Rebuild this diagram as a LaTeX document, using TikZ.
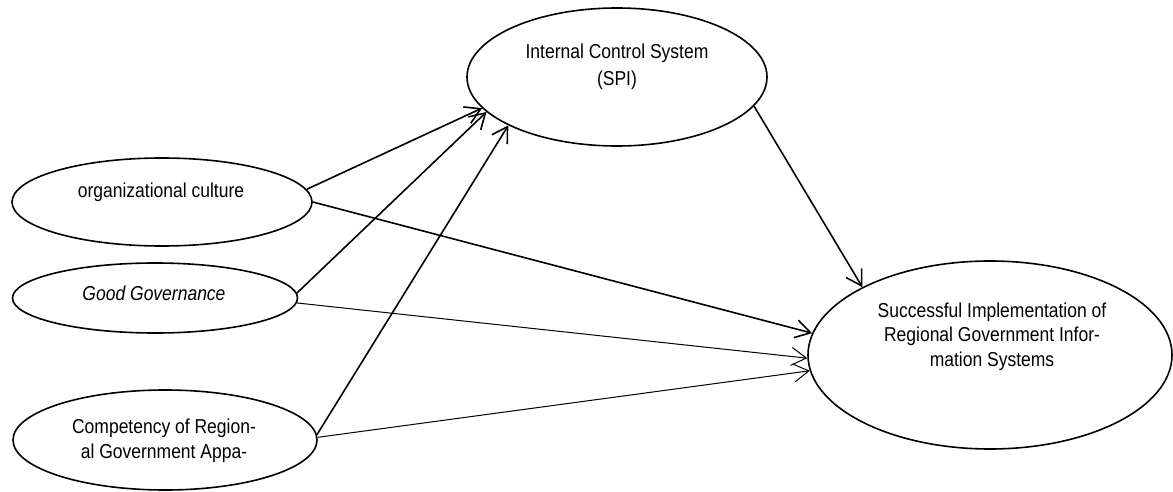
\documentclass[tikz,border=0pt]{standalone}
\usepackage{fontspec}
\setmainfont{Liberation Sans}
\usetikzlibrary{arrows.meta,shapes.geometric}
\newcommand{\tallt}[2]{\scalebox{1}[1.15]{\fontsize{17.5}{#1}\selectfont\begin{tabular}{@{}c@{}}#2\end{tabular}}}
\begin{document}
\begin{tikzpicture}[x=1pt,y=-1pt,
 ell/.style={draw, ellipse, line width=1.6pt, inner sep=0pt},
 txt/.style={inner sep=0pt},
 thk/.style={line width=1.6pt, -{Straight Barb[length=15pt,width=18pt]}},
 thn/.style={line width=1pt, -{Straight Barb[length=15pt,width=18pt]}}
]
\useasboundingbox (0,0) rectangle (1173,492);
% ellipses
\node[ell, minimum width=300pt, minimum height=88pt] (oc) at (162,202) {};
\node[ell, minimum width=285pt, minimum height=70pt] (gg) at (155,298) {};
\node[ell, minimum width=304pt, minimum height=100pt] (cp) at (165,440) {};
\node[ell, minimum width=300pt, minimum height=138pt] (ics) at (617,77) {};
\node[ell, minimum width=364pt, minimum height=188pt] (s) at (990,355) {};
% texts
\node[txt] (ocT) at (161,193) {\tallt{21.3pt}{organizational culture}};
\node[txt] (ggT) at (154,296) {\tallt{21.3pt}{\itshape Good Governance}};
\node[txt] (cpT) at (164,441) {\tallt{21.7pt}{Competency of Region-\\al Government Appa-}};
\node[txt] (icsT) at (617,67) {\tallt{23.5pt}{Internal Control System\\(SPI)}};
\node[txt] (sT) at (992,337) {\tallt{21.3pt}{Successful Implementation of\\Regional Government Infor-\\mation Systems}};
% connectors
\draw[thk] (oc.5) -- (ics.193.6);
\draw[thk] (oc.-0.5) -- (s.173);
\draw[thk] (gg.2) -- (ics.195);
\draw[thn] (gg.-2.8) -- (s.181);
\draw[thk] (cp.2.6) -- (ics.204);
\draw[thn] (cp.1.1) -- (s.185.3);
\draw[thk] (ics.-12.4) -- (s.152);
\end{tikzpicture}
\end{document}
